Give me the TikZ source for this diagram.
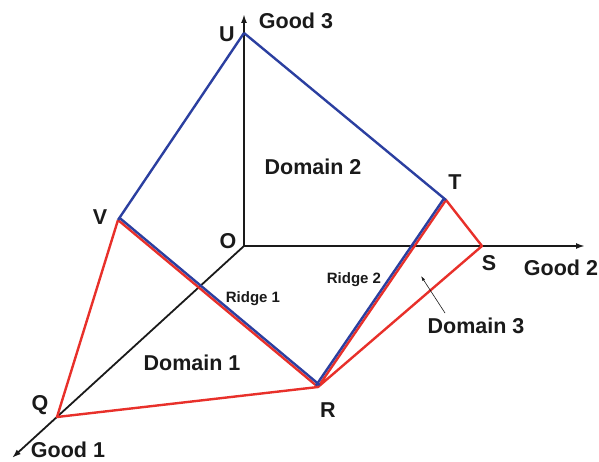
\documentclass[tikz,border=0pt]{standalone}
\usepackage{fontspec}
\setmainfont{Liberation Sans}
\usetikzlibrary{arrows.meta}
\definecolor{EdgeRed}{HTML}{E8302A}
\definecolor{EdgeBlue}{HTML}{2B3FA0}
\definecolor{Ink}{HTML}{1A1A1A}

\begin{document}
\begin{tikzpicture}[x=1pt,y=-1pt,
    axis/.style={Ink,line width=1.8pt,-{Latex[length=9pt,width=6pt]}},
    redline/.style={EdgeRed,line width=2.4pt,line join=round},
    blueline/.style={EdgeBlue,line width=2.4pt,line join=round},
    biglab/.style={text=Ink,font=\bfseries\fontsize{21.5}{21.5}\selectfont},
    smalllab/.style={text=Ink,font=\bfseries\fontsize{15}{15}\selectfont}]
  \useasboundingbox (0,0) rectangle (599,462);
  % corners
  \coordinate (O) at (244,246);
  \coordinate (U) at (244,33);
  \coordinate (V) at (118,220);
  \coordinate (T) at (446,200);
  \coordinate (S) at (482,246);
  \coordinate (R) at (318,387);
  \coordinate (Q) at (57,417);
  \coordinate (end1) at (12,458);
  \coordinate (end2) at (585,246);
  \coordinate (end3) at (244,14);
  % axes
  \draw[axis] (O) -- (end1);
  \draw[axis] (O) -- (end2);
  \draw[axis] (O) -- (end3);
  % red faces
  \draw[redline] (V) -- (Q) -- (R) -- (S) -- (T) -- (R) -- (V);
  % blue face
  \draw[blueline] (U) -- (V);
  \draw[blueline] (T) -- (U);
  \draw[blueline,transform canvas={shift={(1.7,-2)}}] (V) -- (R);
  \draw[blueline,transform canvas={shift={(-2.1,-1.4)}}] (R) -- (T);
  % labels
  \foreach \name/\x/\y/\txt in {
    lU/227/34/U, lV/100/217/V, lO/228/241/O, lT/455/182/T,
    lS/489/263/S, lQ/40/405/Q, lR/328/410/R,
    lg1/68/450/{Good 1}, lg2/561/268/{Good 2}, lg3/296/21/{Good 3},
    ld1/192/363/{Domain 1}, ld2/313/167/{Domain 2}, ld3/476/326/{Domain 3}}
  {
    \node[biglab] (\name) at (\x,\y) {\txt};
  }
  \node[smalllab] (lr1) at (253,299) {Ridge 1};
  \node[smalllab] (lr2) at (354,280) {Ridge 2};
  \coordinate (d3tail) at (445,313);
  \coordinate (d3tip) at (421,276);
  \draw[Ink,line width=0.6pt,-{Latex[length=5pt,width=3pt]}] (d3tail) -- (d3tip);
\end{tikzpicture}
\end{document}
